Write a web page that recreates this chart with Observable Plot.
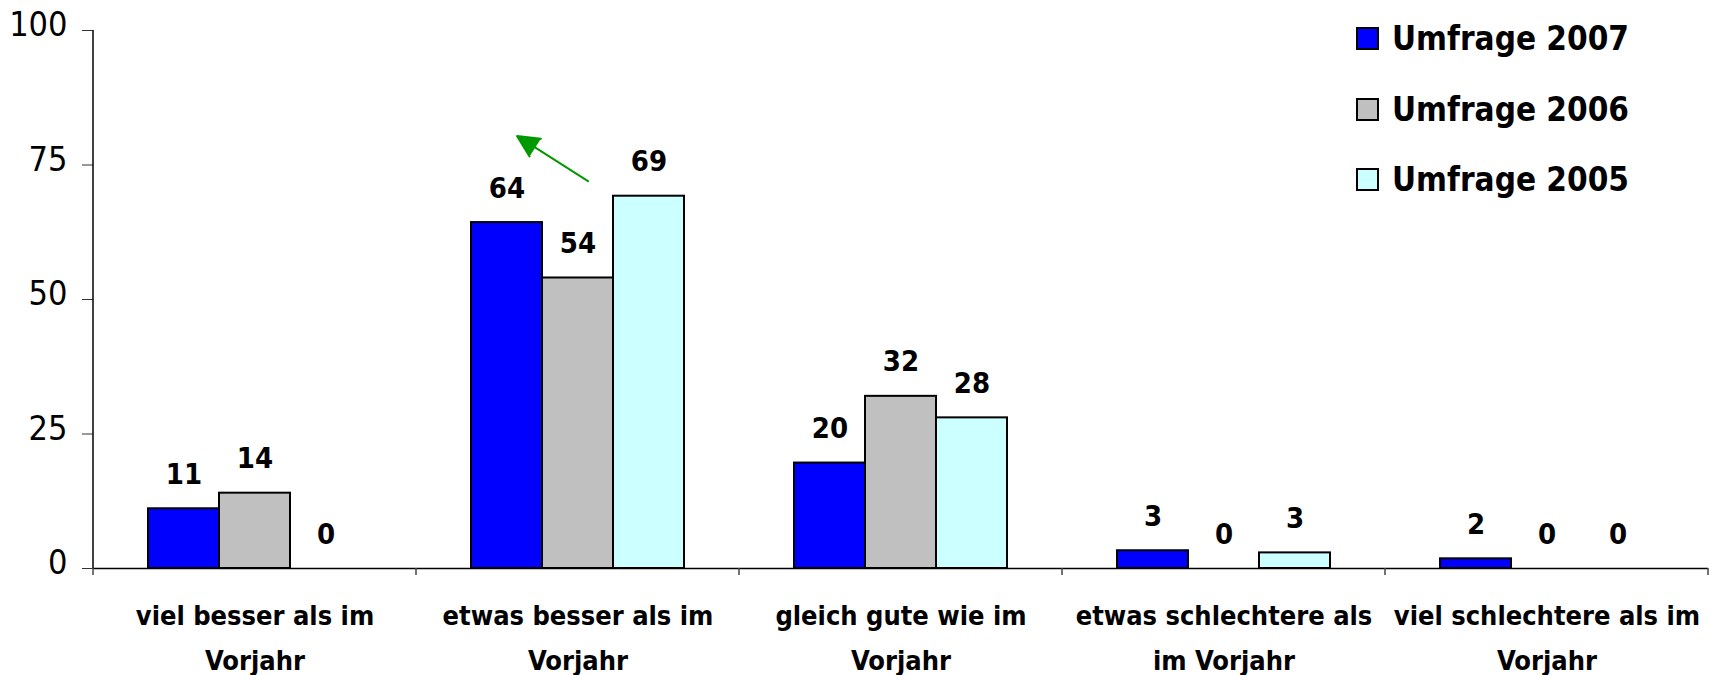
<!DOCTYPE html>
<html>
<head>
<meta charset="utf-8">
<script src="https://cdn.jsdelivr.net/npm/d3@7"></script>
<script src="https://cdn.jsdelivr.net/npm/@observablehq/plot@0.6"></script>
<style>
html, body { margin: 0; padding: 0; background: #fff; }
#wrap { position: relative; width: 1713px; height: 675px; overflow: hidden; }
#legend { position: absolute; left: 1356px; top: 27px; font-family: "DejaVu Sans Condensed", "DejaVu Sans", sans-serif; font-weight: bold; font-size: 33px; color: #000; }
.row { display: flex; align-items: center; height: 23px; margin-bottom: 47.7px; }
.sw { width: 23px; height: 23px; box-sizing: border-box; border: 2px solid #000; margin-right: 13px; flex: none; }
.lb { line-height: 23px; white-space: nowrap; }
</style>
</head>
<body>
<div id="wrap"></div>
<script>
// ---- data ----
const categories = [
  "viel besser als im Vorjahr",
  "etwas besser als im Vorjahr",
  "gleich gute wie im Vorjahr",
  "etwas schlechtere als im Vorjahr",
  "viel schlechtere als im Vorjahr"
];
const categoryLabels = [
  "viel besser als im\nVorjahr",
  "etwas besser als im\nVorjahr",
  "gleich gute wie im\nVorjahr",
  "etwas schlechtere als\nim Vorjahr",
  "viel schlechtere als im\nVorjahr"
];
const series = ["Umfrage 2007", "Umfrage 2006", "Umfrage 2005"];
const seriesColors = ["#0000FF", "#C0C0C0", "#CCFFFF"];
const values2007 = [11.1, 64.3, 19.6, 3.3, 1.8];
const values2006 = [14, 54, 32, 0, 0];
const values2005 = [0, 69.2, 28, 2.9, 0];
const yTicks = [0, 25, 50, 75, 100];
// green annotation arrow (from the 2006 bar area up-left toward the 2007 bar)
const arrowCategory = "etwas besser als im Vorjahr";
const arrowFrom = {series: "Umfrage 2006", value: 72};
const arrowTo = {series: "Umfrage 2007", value: 80.4};

// ---- tidy table ----
const seriesValues = [values2007, values2006, values2005];
const rows = [];
categories.forEach((c, i) => {
  series.forEach((s, j) => rows.push({category: c, series: s, value: seriesValues[j][i]}));
});
const labelOf = new Map(categories.map((c, i) => [c, categoryLabels[i]]));
const fmt = d3.format(".0f");
const arrowData = [{category: arrowCategory, x1: arrowFrom.series, y1: arrowFrom.value, x2: arrowTo.series, y2: arrowTo.value}];

const plot = Plot.plot({
  width: 1713,
  height: 675,
  marginTop: 30,
  marginBottom: 107,
  marginLeft: 91,
  marginRight: 4,
  style: {fontFamily: '"DejaVu Sans Condensed", "DejaVu Sans", sans-serif', color: "#000", background: "#fff"},
  fx: {domain: categories, padding: 0},
  x: {domain: series, paddingInner: 0, paddingOuter: 0.75, axis: null},
  y: {domain: [0, 100]},
  color: {domain: series, range: seriesColors},
  marks: [
    Plot.barY(rows, {filter: d => d.value > 0, fx: "category", x: "series", y: "value", fill: "series", stroke: "#000", strokeWidth: 2}),
    Plot.text(rows, {fx: "category", x: "series", y: "value", text: d => fmt(d.value), lineAnchor: "bottom", dy: -25, fontSize: 29, fontWeight: "bold", fill: "#000"}),
    Plot.ruleY([0], {stroke: "#000", strokeWidth: 1.5}),
    Plot.arrow(arrowData, {fx: "category", x1: "x1", y1: "y1", x2: "x2", y2: "y2", dx: 10, stroke: "#009900", fill: "#009900", strokeWidth: 2, headLength: 18, headAngle: 52}),
    Plot.axisY({ticks: yTicks, tickSize: 11, tickFormat: () => "", label: null, stroke: "#333"}),
    Plot.axisY({ticks: yTicks, tickSize: 0, tickPadding: 26, dy: -5, fontSize: 34, label: null, fill: "#000"}),
    Plot.axisFx({anchor: "bottom", tickSize: 0, tickPadding: 25, fontSize: 27, fontWeight: "bold", lineHeight: 1.65, label: null, tickFormat: d => labelOf.get(d), fill: "#000"})
  ]
});

// y-axis line and category boundary ticks from the plot's own scales
const fxS = plot.scale("fx"), yS = plot.scale("y");
const y0 = yS.apply(0), yTop = yS.apply(100);
const edges = categories.map(c => fxS.apply(c)).concat([fxS.apply(categories[categories.length - 1]) + fxS.bandwidth]);
const g = d3.select(plot).append("g").attr("stroke", "#000").attr("stroke-width", 1.5);
g.append("line").attr("x1", edges[0]).attr("x2", edges[0]).attr("y1", yTop).attr("y2", y0);
g.selectAll("line.edge").data(edges).join("line").attr("class", "edge")
  .attr("x1", d => d).attr("x2", d => d).attr("y1", y0).attr("y2", y0 + 7).attr("stroke", "#444");

document.getElementById("wrap").appendChild(plot);

// legend
const legend = d3.select("#wrap").append("div").attr("id", "legend");
const rowsL = legend.selectAll("div.row").data(series).join("div").attr("class", "row");
rowsL.append("div").attr("class", "sw").style("background", (d, i) => seriesColors[i]);
rowsL.append("div").attr("class", "lb").text(d => d);
</script>
</body>
</html>
